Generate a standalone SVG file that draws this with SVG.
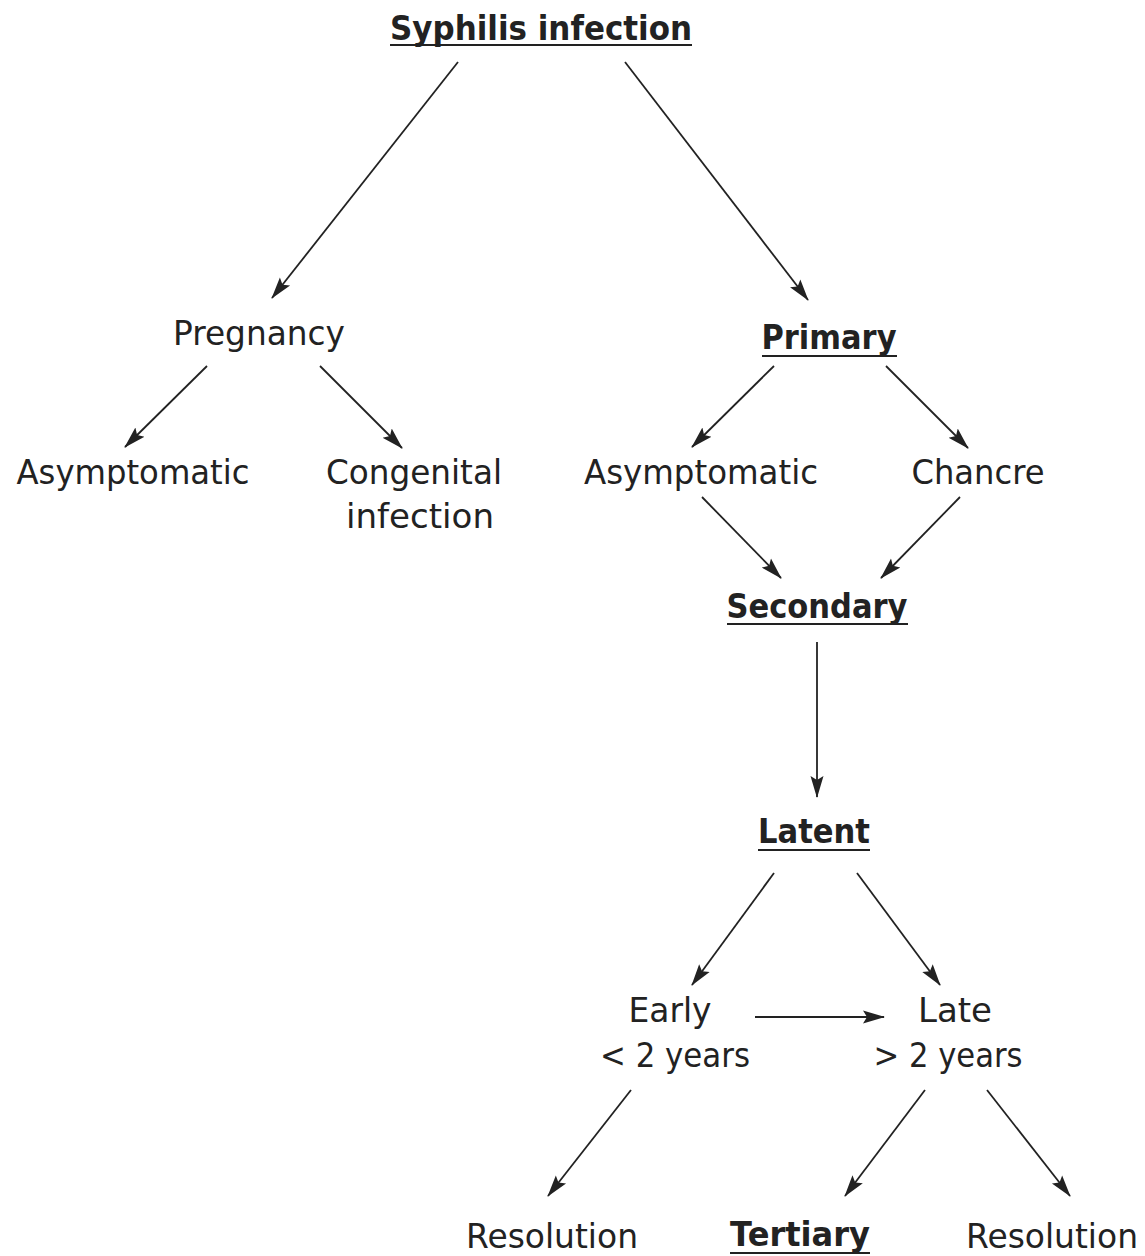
<svg xmlns="http://www.w3.org/2000/svg" width="1145" height="1256" viewBox="0 0 1145 1256">
<defs>
<marker id="ah" markerUnits="userSpaceOnUse" markerWidth="22" markerHeight="16" viewBox="0 0 22 16" refX="21" refY="8" orient="auto">
<path d="M0,1.5 L22,8 L0,14.5 L4,8 Z" fill="#222"/>
</marker>
<style>
text{font-family:"DejaVu Sans","Liberation Sans",sans-serif;font-size:34px;fill:#222;text-anchor:middle}
.b{font-weight:bold;font-size:33px}
.u{stroke:#222;stroke-width:2}
#edges line{stroke:#222;stroke-width:1.8;marker-end:url(#ah)}
</style>
</defs>
<rect width="1145" height="1256" fill="#fff"/>
<g id="edges">
<line x1="458" y1="62" x2="272" y2="298"/>
<line x1="625" y1="62" x2="808" y2="300"/>
<line x1="207" y1="366" x2="125" y2="447"/>
<line x1="320" y1="366" x2="402" y2="448"/>
<line x1="774" y1="366" x2="692" y2="447"/>
<line x1="886" y1="366" x2="968" y2="448"/>
<line x1="702" y1="497" x2="781" y2="578"/>
<line x1="960" y1="497" x2="881" y2="578"/>
<line x1="817" y1="642" x2="817" y2="797"/>
<line x1="774" y1="873" x2="692" y2="985"/>
<line x1="857" y1="873" x2="940" y2="985"/>
<line x1="755" y1="1017" x2="884" y2="1017"/>
<line x1="631" y1="1090" x2="548" y2="1196"/>
<line x1="925" y1="1090" x2="845" y2="1196"/>
<line x1="987" y1="1090" x2="1070" y2="1196"/>
</g>
<g id="syphilis"><text class="b" x="541" y="40" textLength="302" lengthAdjust="spacingAndGlyphs">Syphilis infection</text><line class="u" x1="390" y1="45" x2="692" y2="45"/></g>
<g id="pregnancy"><text x="259" y="345" textLength="172" lengthAdjust="spacingAndGlyphs">Pregnancy</text></g>
<g id="primary"><text class="b" x="829" y="349" textLength="135" lengthAdjust="spacingAndGlyphs">Primary</text><line class="u" x1="762" y1="356" x2="897" y2="356"/></g>
<g id="asym-left"><text x="133" y="484" textLength="233" lengthAdjust="spacingAndGlyphs">Asymptomatic</text></g>
<g id="congenital"><text x="414" y="484" textLength="176" lengthAdjust="spacingAndGlyphs">Congenital</text><text x="420" y="528" textLength="148" lengthAdjust="spacingAndGlyphs">infection</text></g>
<g id="asym-right"><text x="701" y="484" textLength="234" lengthAdjust="spacingAndGlyphs">Asymptomatic</text></g>
<g id="chancre"><text x="978" y="484" textLength="133" lengthAdjust="spacingAndGlyphs">Chancre</text></g>
<g id="secondary"><text class="b" x="817" y="618" textLength="181" lengthAdjust="spacingAndGlyphs">Secondary</text><line class="u" x1="727" y1="624" x2="908" y2="624"/></g>
<g id="latent"><text class="b" x="814" y="843" textLength="112" lengthAdjust="spacingAndGlyphs">Latent</text><line class="u" x1="758" y1="850" x2="870" y2="850"/></g>
<g id="early"><text x="670" y="1022" textLength="83" lengthAdjust="spacingAndGlyphs">Early</text><text x="675" y="1067" textLength="150" lengthAdjust="spacingAndGlyphs">&lt; 2 years</text></g>
<g id="late"><text x="955" y="1022" textLength="74" lengthAdjust="spacingAndGlyphs">Late</text><text x="948" y="1067" textLength="149" lengthAdjust="spacingAndGlyphs">&gt; 2 years</text></g>
<g id="resolution-left"><text x="552" y="1248" textLength="172" lengthAdjust="spacingAndGlyphs">Resolution</text></g>
<g id="tertiary"><text class="b" x="800" y="1246" textLength="140" lengthAdjust="spacingAndGlyphs">Tertiary</text><line class="u" x1="730" y1="1253" x2="870" y2="1253"/></g>
<g id="resolution-right"><text x="1052" y="1248" textLength="172" lengthAdjust="spacingAndGlyphs">Resolution</text></g>
</svg>
